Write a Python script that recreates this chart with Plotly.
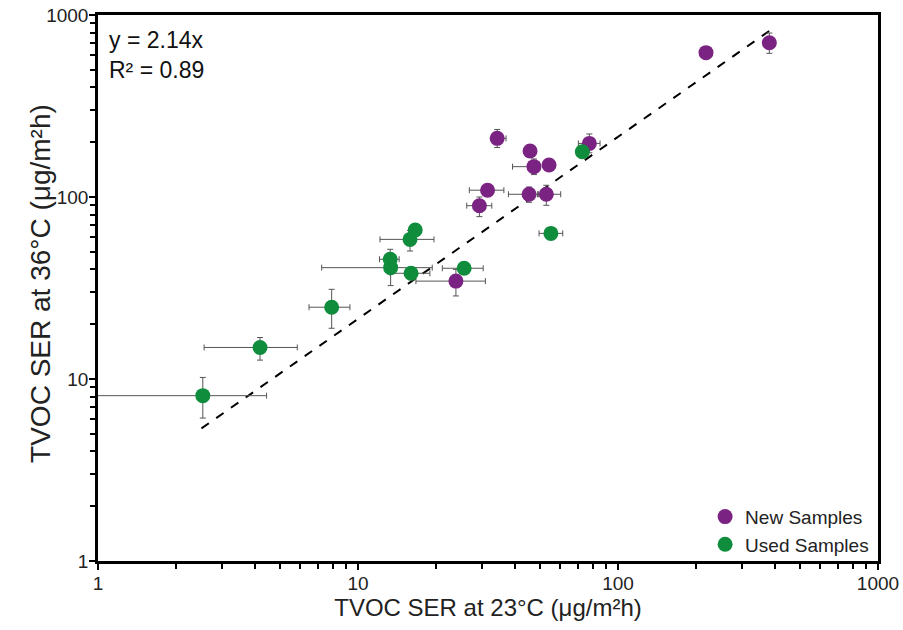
"""TVOC SER at 36°C vs 23°C, log-log scatter with error bars."""

import plotly.graph_objects as go

# New samples (purple)
new_x = [23.8, 31.5, 29.3, 45.5, 53.0, 34.3, 45.9, 47.5, 54.3, 77.6, 218, 382]
new_y = [34.5, 109, 89.6, 103.5, 103.5, 210, 179, 146.8, 150, 197, 621, 704]
new_x_minus = [7.1, 4.7, 3.1, 7.6, 4.0, 1.6, 0, 8.2, 2.0, 7.2, 0, 5]
new_x_plus = [7.1, 4.9, 3.4, 4.0, 7.2, 2.8, 0, 2.0, 3.0, 7.7, 0, 5]
new_y_minus = [5.9, 8, 11.6, 10, 13.5, 23, 0, 14, 8, 22, 0, 88]
new_y_plus = [5.5, 8, 10.4, 10, 12.5, 25, 0, 15, 8, 25, 0, 92]

# Used samples (green)
used_x = [2.53, 4.2, 7.92, 13.3, 13.35, 15.85, 16.6, 16.0, 25.6, 55.2, 72.9]
used_y = [8.1, 14.9, 24.8, 45.5, 40.9, 58.5, 65.9, 38.1, 40.6, 63.1, 177.4]
used_x_minus = [1.8, 1.64, 1.44, 1.2, 6.1, 3.7, 0.8, 2.7, 4.5, 5.5, 3]
used_x_plus = [1.92, 1.64, 1.39, 1.1, 5.95, 3.75, 0.8, 2.9, 4.7, 6.1, 3]
used_y_minus = [2.0, 2.2, 5.8, 3, 8.3, 8, 3, 3, 2, 2, 10]
used_y_plus = [2.1, 2.0, 6.3, 6.1, 4, 7, 3, 3, 2, 2, 10]

# Fit y = 2.14x
slope = 2.14
fit_x = [2.5, 385]
fit_y = [slope * v for v in fit_x]

minor_vals = [m * 10 ** d for d in range(0, 3) for m in range(2, 10)]

PURPLE = "#7a2382"
GREEN = "#0f8d3d"
ERR = "#555555"
FONT = "Liberation Sans, Arial, sans-serif"


def err(minus, plus):
    return dict(type="data", symmetric=False, array=plus, arrayminus=minus,
                color=ERR, thickness=1, width=3)


fig = go.Figure()
fig.add_trace(go.Scatter(
    x=fit_x, y=fit_y, mode="lines", showlegend=False,
    line=dict(color="black", width=2, dash="dash"),
))
fig.add_trace(go.Scatter(
    x=new_x, y=new_y, mode="markers", name="New Samples",
    marker=dict(color=PURPLE, size=15),
    error_x=err(new_x_minus, new_x_plus),
    error_y=err(new_y_minus, new_y_plus),
))
fig.add_trace(go.Scatter(
    x=used_x, y=used_y, mode="markers", name="Used Samples",
    marker=dict(color=GREEN, size=15),
    error_x=err(used_x_minus, used_x_plus),
    error_y=err(used_y_minus, used_y_plus),
))

axis_common = dict(
    type="log", showgrid=False, zeroline=False, automargin=False,
    showline=True, linecolor="black", linewidth=2.5, mirror=True,
    ticks="outside", ticklen=6, tickwidth=2, tickcolor="black",
    ticklabelstandoff=-3,
    tickvals=[1, 10, 100, 1000], ticktext=["1", "10", "100", "1000"],
    tickfont=dict(family=FONT, size=19, color="#222"),
    minor=dict(tickvals=minor_vals, ticks="outside", ticklen=5,
               tickwidth=2, tickcolor="black"),
    range=[0, 3],
)

fig.update_xaxes(**axis_common,
                 title=dict(text="TVOC SER at 23°C (μg/m²h)",
                            font=dict(family=FONT, size=24, color="#222"),
                            standoff=2))
fig.update_yaxes(**axis_common)

# y title as an annotation so it can sit close to the tick labels
fig.add_annotation(
    xref="paper", yref="paper", x=-0.074, y=0.508,
    xanchor="center", yanchor="middle", textangle=-90, showarrow=False,
    text="TVOC SER at 36°C (μg/m²h)",
    font=dict(family=FONT, size=28, color="#222"),
)

fig.add_annotation(
    xref="paper", yref="paper", x=0.012, y=0.982,
    xanchor="left", yanchor="top", align="left", showarrow=False,
    text="y = 2.14x<br>R² = 0.89",
    font=dict(family=FONT, size=23, color="#111"),
)

fig.update_layout(
    width=903, height=630,
    paper_bgcolor="white", plot_bgcolor="white",
    font=dict(family=FONT, color="#222"),
    margin=dict(l=98, r=25, t=15, b=69),
    legend=dict(x=0.995, y=-0.005, xanchor="right", yanchor="bottom",
                font=dict(family=FONT, size=19, color="#222"),
                bgcolor="rgba(0,0,0,0)",
                itemwidth=30, tracegroupgap=0),
)

# drop the default 8px page margin so the figure fills the window exactly
fig.write_html("out.html", config={"displayModeBar": False},
               post_script="document.body.style.margin='0';")
